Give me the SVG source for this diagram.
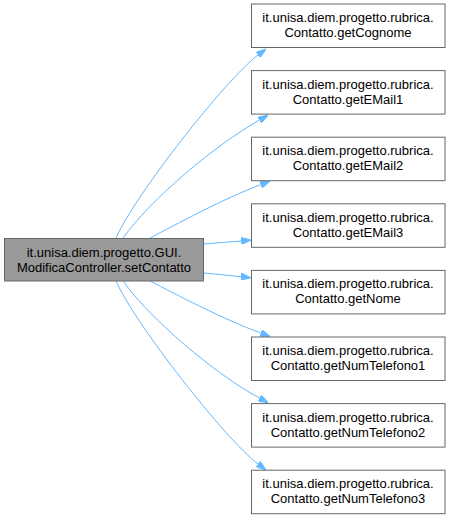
<svg xmlns="http://www.w3.org/2000/svg" width="450" height="520" viewBox="0 0 450 520">
<style>
.n rect{stroke:#666666;stroke-width:1}
.w rect{fill:#ffffff}
.g rect{fill:#999999}
text{font-family:"Liberation Sans",Arial,sans-serif;font-size:13px;fill:#000000;text-anchor:middle}
.e path{fill:none;stroke:#63b8ff;stroke-width:1}
</style>
<defs>
<marker id="ah" viewBox="0 0 10 7" refX="0" refY="3.5" markerWidth="10" markerHeight="7" markerUnits="userSpaceOnUse" orient="auto">
<path d="M0,0 L10,3.5 L0,7 z" fill="#63b8ff" stroke="#63b8ff" stroke-width="1"/>
</marker>
</defs>
<rect width="450" height="520" fill="#ffffff"/>
<g id="edges" class="e">
<path marker-end="url(#ah)" d="M116,238 C135,195 226,79 258,55"/>
<path marker-end="url(#ah)" d="M123,238 C150,200 215,145 259.4,120.1"/>
<path marker-end="url(#ah)" d="M150,238 C175,225 225,198 260.7,184.7"/>
<path marker-end="url(#ah)" d="M204,244 C215,243 230,242 241,241"/>
<path marker-end="url(#ah)" d="M204,273 C215,274 230,275.5 241,276.7"/>
<path marker-end="url(#ah)" d="M150,281 C175,294 225,320 260.7,333"/>
<path marker-end="url(#ah)" d="M123,281 C150,319 215,374 259.4,398"/>
<path marker-end="url(#ah)" d="M116,281 C135,324 226,440 258,464"/>
</g>
<g id="setContatto" class="n g">
<rect x="4.5" y="238.5" width="199" height="42.5"/>
<text x="104" y="256.5">it.unisa.diem.progetto.GUI.</text>
<text x="104" y="271.5">ModificaController.setContatto</text>
</g>
<g id="getCognome" class="n w">
<rect x="251.5" y="4" width="193.5" height="43.5"/>
<text x="348" y="22">it.unisa.diem.progetto.rubrica.</text>
<text x="348" y="37">Contatto.getCognome</text>
</g>
<g id="getEMail1" class="n w">
<rect x="251.5" y="70.6" width="193.5" height="43.5"/>
<text x="348" y="88.6">it.unisa.diem.progetto.rubrica.</text>
<text x="348" y="103.6">Contatto.getEMail1</text>
</g>
<g id="getEMail2" class="n w">
<rect x="251.5" y="137.2" width="193.5" height="43.5"/>
<text x="348" y="155.2">it.unisa.diem.progetto.rubrica.</text>
<text x="348" y="170.2">Contatto.getEMail2</text>
</g>
<g id="getEMail3" class="n w">
<rect x="251.5" y="203.8" width="193.5" height="43.5"/>
<text x="348" y="221.8">it.unisa.diem.progetto.rubrica.</text>
<text x="348" y="236.8">Contatto.getEMail3</text>
</g>
<g id="getNome" class="n w">
<rect x="251.5" y="270.4" width="193.5" height="43.5"/>
<text x="348" y="288.4">it.unisa.diem.progetto.rubrica.</text>
<text x="348" y="303.4">Contatto.getNome</text>
</g>
<g id="getNumTelefono1" class="n w">
<rect x="251.5" y="337" width="193.5" height="43.5"/>
<text x="348" y="355">it.unisa.diem.progetto.rubrica.</text>
<text x="348" y="370">Contatto.getNumTelefono1</text>
</g>
<g id="getNumTelefono2" class="n w">
<rect x="251.5" y="403.6" width="193.5" height="43.5"/>
<text x="348" y="421.6">it.unisa.diem.progetto.rubrica.</text>
<text x="348" y="436.6">Contatto.getNumTelefono2</text>
</g>
<g id="getNumTelefono3" class="n w">
<rect x="251.5" y="470.2" width="193.5" height="43.5"/>
<text x="348" y="488.2">it.unisa.diem.progetto.rubrica.</text>
<text x="348" y="503.2">Contatto.getNumTelefono3</text>
</g>
</svg>
